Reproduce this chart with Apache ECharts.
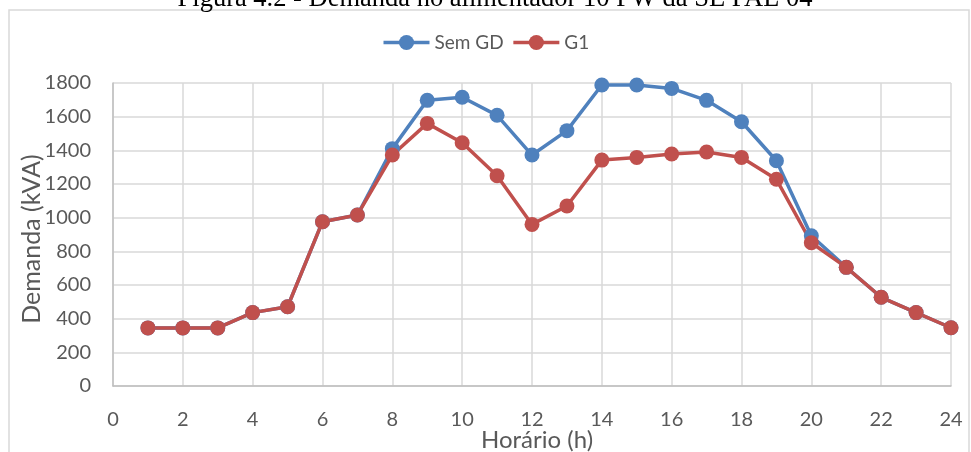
<!DOCTYPE html>
<html>
<head>
<meta charset="utf-8">
<script src="https://cdn.jsdelivr.net/npm/echarts@6/dist/echarts.min.js"></script>
<style>html,body{margin:0;padding:0;background:#fff}#c{width:971px;height:452px}</style>
</head>
<body>
<div id="c"></div>
<script>
var hours = [1,2,3,4,5,6,7,8,9,10,11,12,13,14,15,16,17,18,19,20,21,22,23,24];
var semGD = [345,345,345,436,471,976,1016,1410,1697,1715,1608,1372,1517,1788,1788,1768,1697,1570,1338,893,705,527,436,346];
var g1 =    [345,345,345,436,471,976,1016,1372,1560,1445,1249,960,1069,1342,1358,1378,1390,1358,1228,851,705,527,436,346];
var seriesNames = ['Sem GD', 'G1'];
var titleText = 'Figura 4.2 - Demanda no alimentador 10 PW da SE PAL 04';
var xName = 'Horário (h)';
var yName = 'Demanda (kVA)';

var font = 'Lato, "Open Sans", sans-serif';
var txt = '#595959';
function pts(arr){ return hours.map(function(h,i){ return [h, arr[i]]; }); }

var chart = echarts.init(document.getElementById('c'), null, {renderer:'canvas'});
chart.setOption({
  animation: false,
  color: ['#4f81bd', '#c0504d'],
  graphic: [
    {type:'rect', shape:{x:9, y:10, width:960, height:470}, style:{fill:'none', stroke:'#d9d9d9', lineWidth:1.5}, z:-1},
    {type:'text', x:495, y:13, style:{text:titleText, font:'26.5px "Liberation Serif", "Times New Roman", serif', fill:'#000', textAlign:'center', textVerticalAlign:'bottom'}},
    {type:'text', x:537, y:440, style:{text:xName, font:'24px Lato, "Open Sans", sans-serif', fill:txt, textAlign:'center', textVerticalAlign:'middle'}},
    {type:'text', x:32, y:239, rotation: Math.PI/2, style:{text:yName, font:'25px Lato, "Open Sans", sans-serif', fill:txt, textAlign:'center', textVerticalAlign:'middle'}}
  ],
  legend: {
    top: 28, left: 'center',
    itemWidth: 46, itemHeight: 19, itemGap: 8,
    lineStyle: {width: 3.5},
    textStyle: {color: txt, fontSize: 19, fontFamily: font},
    data: seriesNames
  },
  grid: {left: 113, right: 20, top: 83, bottom: 66, containLabel: false, outerBoundsMode: 'none'},
  xAxis: {
    type: 'value', min: 0, max: 24, interval: 2,
    axisLine: {show: true, lineStyle: {color: '#bfbfbf', width: 1.5}},
    axisTick: {show: false},
    axisLabel: {color: txt, fontSize: 20, fontFamily: font, margin: 24},
    splitLine: {show: true, lineStyle: {color: '#d9d9d9', width: 1.5}}
  },
  yAxis: {
    type: 'value', min: 0, max: 1800, interval: 200,
    axisLine: {show: true, lineStyle: {color: '#bfbfbf', width: 1.5}},
    axisTick: {show: false},
    axisLabel: {color: txt, fontSize: 20, fontFamily: font, margin: 22, formatter: function(v){ return String(v); }},
    splitLine: {show: true, lineStyle: {color: '#d9d9d9', width: 1.5}}
  },
  series: [
    {name: seriesNames[0], type: 'line', data: pts(semGD), symbol: 'circle', symbolSize: 15,
     lineStyle: {width: 3.5}, itemStyle: {color: '#4f81bd'}},
    {name: seriesNames[1], type: 'line', data: pts(g1), symbol: 'circle', symbolSize: 15,
     lineStyle: {width: 3.5}, itemStyle: {color: '#c0504d'}}
  ]
});
</script>
</body>
</html>
